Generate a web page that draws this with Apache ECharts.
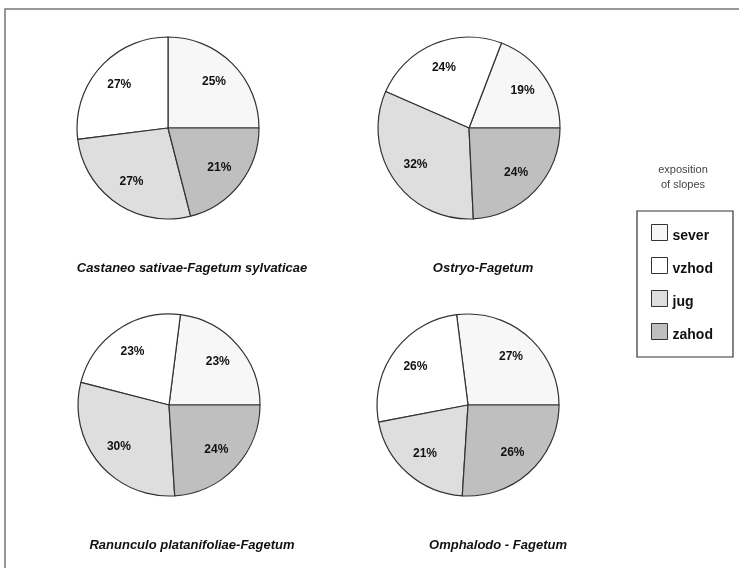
<!DOCTYPE html>
<html>
<head>
<meta charset="utf-8">
<style>html,body{margin:0;padding:0;background:#fff}#c{width:739px;height:568px}</style>
<script src="https://cdn.jsdelivr.net/npm/echarts@6/dist/echarts.min.js"></script>
</head>
<body>
<div id="c"></div>
<script>
var categories = ['sever', 'vzhod', 'jug', 'zahod'];
var sliceColors = ['#f7f7f7', '#ffffff', '#dedede', '#bfbfbf'];
var titles = ['Castaneo sativae-Fagetum sylvaticae', 'Ostryo-Fagetum', 'Ranunculo platanifoliae-Fagetum', 'Omphalodo - Fagetum'];
var castaneo = [25, 27, 27, 21];
var ostryo = [19, 24, 32, 24];
var ranunculo = [23, 23, 30, 24];
var omphalodo = [27, 26, 21, 26];
var allValues = [castaneo, ostryo, ranunculo, omphalodo];
var centers = [[168, 128], [469, 128], [169, 405], [468, 405]];
var titlePos = [[192, 268], [483, 268], [192, 545], [498, 545]];
var R = 91;

var chart = echarts.init(document.getElementById('c'), null, {renderer: 'canvas'});
var series = [];
allValues.forEach(function (vals, i) {
  var data = vals.map(function (v, k) {
    return {name: categories[k], value: v, itemStyle: {color: sliceColors[k]}};
  });
  series.push({
    type: 'pie', center: centers[i], radius: [0, R], startAngle: 0, clockwise: false,
    silent: true, animation: false,
    itemStyle: {borderColor: '#333', borderWidth: 1.2},
    label: {show: false}, labelLine: {show: false},
    data: data
  });
  series.push({
    type: 'pie', center: centers[i], radius: [0, 124], startAngle: 0, clockwise: false,
    silent: true, animation: false, legendHoverLink: false,
    itemStyle: {color: 'rgba(0,0,0,0)', borderWidth: 0},
    label: {show: true, position: 'inside', formatter: '{c}%', color: '#111',
      fontFamily: 'Liberation Sans, Arial, sans-serif', fontWeight: 'bold', fontSize: 12},
    labelLine: {show: false},
    data: vals.map(function (v, k) { return {name: categories[k] + '_lbl', value: v}; })
  });
});

var graphics = [
  {type: 'rect', shape: {x: 5, y: 9, width: 760, height: 600}, style: {fill: 'none', stroke: '#777', lineWidth: 1.5}, silent: true},
  {type: 'rect', shape: {x: 637, y: 211, width: 96, height: 146}, style: {fill: 'none', stroke: '#333', lineWidth: 1.2}, silent: true},
  {type: 'text', x: 683, y: 170, style: {text: 'exposition', fill: '#444', font: '11px Liberation Sans, Arial, sans-serif', align: 'center', verticalAlign: 'middle'}},
  {type: 'text', x: 683, y: 185, style: {text: 'of slopes', fill: '#444', font: '11px Liberation Sans, Arial, sans-serif', align: 'center', verticalAlign: 'middle'}}
];
titles.forEach(function (t, i) {
  graphics.push({type: 'text', x: titlePos[i][0], y: titlePos[i][1],
    style: {text: t, fill: '#111', font: 'italic bold 13px Liberation Sans, Arial, sans-serif', align: 'center', verticalAlign: 'middle'}});
});

chart.setOption({
  animation: false,
  legend: {
    orient: 'vertical', left: 638, top: 211,
    data: categories.map(function (c) { return {name: c, icon: 'rect'}; }),
    itemWidth: 16, itemHeight: 16, itemGap: 14,
    padding: [13, 10, 10, 13],
    borderWidth: 0,
    itemStyle: {borderColor: '#333', borderWidth: 1},
    formatter: function (n) { return '{a|' + n + '}'; },
    textStyle: {color: '#111', rich: {a: {fontFamily: 'Liberation Sans, Arial, sans-serif', fontWeight: 'bold', fontSize: 14, color: '#111', padding: [7, 0, 0, 0]}}},
    selectedMode: false
  },
  graphic: graphics,
  series: series
});
</script>
</body>
</html>
